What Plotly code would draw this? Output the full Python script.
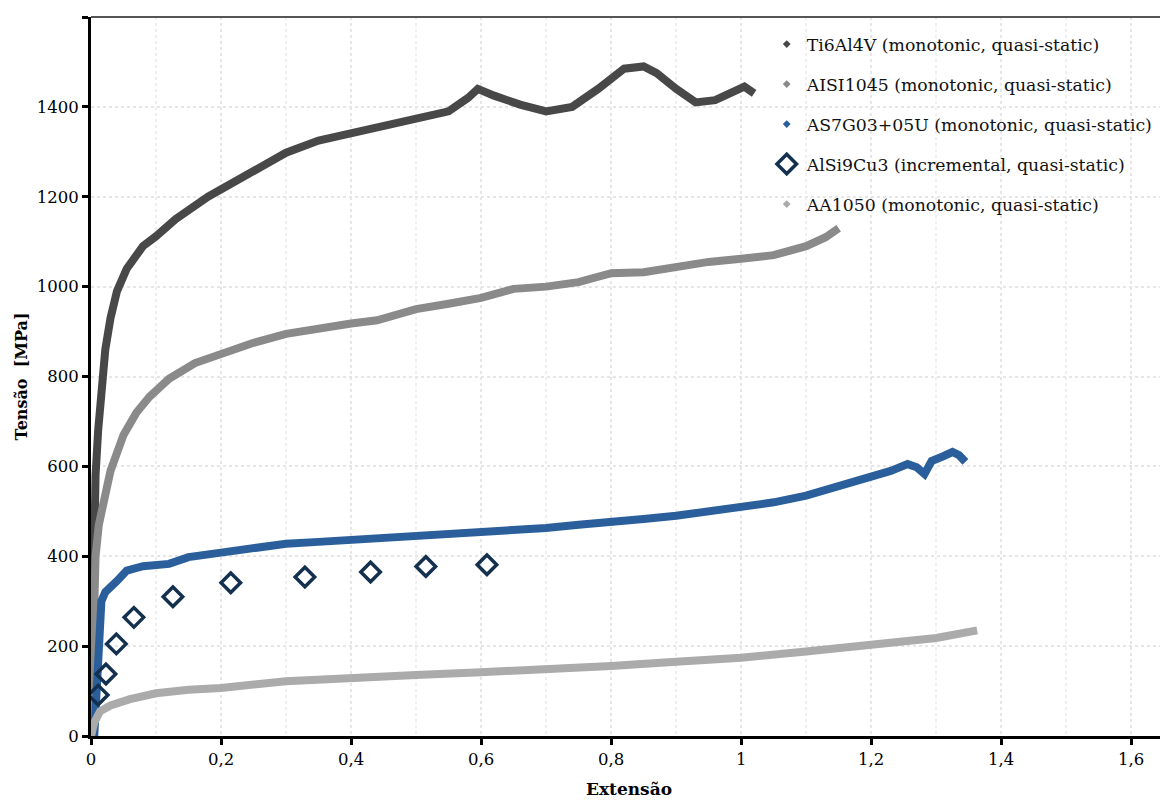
import plotly.graph_objects as go

# ---- data ----
ti_x = [0, 0.002, 0.004, 0.007, 0.011, 0.016, 0.022, 0.03, 0.04, 0.055, 0.08, 0.1, 0.13, 0.18,
        0.24, 0.3, 0.35, 0.43, 0.5, 0.55, 0.58, 0.595, 0.62, 0.66, 0.7, 0.74, 0.78, 0.82, 0.85,
        0.87, 0.9, 0.93, 0.96, 0.99, 1.005, 1.02]
ti_y = [0, 250, 450, 580, 680, 780, 860, 930, 990, 1040, 1090, 1112, 1150, 1200, 1250, 1298,
        1325, 1350, 1372, 1390, 1420, 1440, 1425, 1405, 1390, 1400, 1440, 1485, 1490, 1475,
        1440, 1410, 1415, 1435, 1445, 1430]

aisi_x = [0, 0.002, 0.004, 0.007, 0.012, 0.02, 0.03, 0.05, 0.07, 0.09, 0.12, 0.16, 0.2, 0.25,
          0.3, 0.35, 0.4, 0.44, 0.5, 0.55, 0.6, 0.65, 0.7, 0.75, 0.8, 0.85, 0.9, 0.95, 1.0,
          1.05, 1.1, 1.13, 1.15]
aisi_y = [0, 150, 300, 400, 470, 530, 590, 670, 720, 755, 795, 830, 850, 875, 895, 908, 918,
          925, 950, 962, 975, 995, 1000, 1010, 1030, 1032, 1045, 1055, 1062, 1070, 1090, 1110,
          1130]

as7_x = [0.005, 0.008, 0.01, 0.012, 0.016, 0.022, 0.03, 0.04, 0.055, 0.08, 0.12, 0.15, 0.2,
         0.25, 0.3, 0.35, 0.4, 0.45, 0.5, 0.55, 0.6, 0.65, 0.7, 0.75, 0.8, 0.85, 0.9, 0.95,
         1.0, 1.05, 1.1, 1.15, 1.2, 1.23, 1.256, 1.27, 1.282, 1.293, 1.31, 1.325, 1.335, 1.345]
as7_y = [0, 80, 170, 250, 300, 320, 330, 345, 368, 378, 383, 398, 408, 418, 428, 432, 436,
         442, 445, 447, 455, 458, 463, 470, 475, 483, 490, 500, 508, 520, 535, 555, 575, 590,
         605, 598, 583, 612, 622, 632, 625, 610]

alsi_x = [0.011, 0.023, 0.039, 0.066, 0.126, 0.215, 0.329, 0.43, 0.515, 0.609]
alsi_y = [91, 138, 205, 264, 310, 341, 354, 365, 377, 381]

aa_x = [0, 0.005, 0.014, 0.03, 0.06, 0.1, 0.15, 0.2, 0.3, 0.4, 0.5, 0.6, 0.7, 0.8, 0.9, 1.0,
        1.1, 1.2, 1.25, 1.3, 1.363]
aa_y = [0, 30, 55, 68, 82, 95, 103, 107, 122, 131, 136, 142, 148, 156, 165, 174, 188, 203,
        210, 218, 235]

names = ["Ti6Al4V (monotonic, quasi-static)",
         "AISI1045 (monotonic, quasi-static)",
         "AS7G03+05U (monotonic, quasi-static)",
         "AlSi9Cu3 (incremental, quasi-static)",
         "AA1050 (monotonic, quasi-static)"]
colors = ["#484848", "#8a8a8a", "#2a5f9c", "#14304f", "#ababab"]

x_ticks = [0, 0.2, 0.4, 0.6, 0.8, 1.0, 1.2, 1.4, 1.6]
x_ticklabels = ["0", "0,2", "0,4", "0,6", "0,8", "1", "1,2", "1,4", "1,6"]
y_ticks = [0, 200, 400, 600, 800, 1000, 1200, 1400, 1600]

FONT = "DejaVu Serif"

fig = go.Figure()

curves = [(ti_x, ti_y, 0), (aisi_x, aisi_y, 1), (as7_x, as7_y, 2)]
for xs, ys, i in curves:
    fig.add_trace(go.Scatter(x=xs, y=ys, mode="lines", line=dict(color=colors[i], width=8),
                             showlegend=False, hoverinfo="skip"))
    fig.add_trace(go.Scatter(x=[None], y=[None], mode="markers", name=names[i],
                             legendgroup=str(i),
                             marker=dict(symbol="diamond", size=6, color=colors[i])))

fig.add_trace(go.Scatter(x=alsi_x, y=alsi_y, mode="markers", name=names[3], legendgroup="3",
                         marker=dict(symbol="diamond-open", size=15, color=colors[3],
                                     line=dict(width=3.5, color=colors[3]))))

fig.add_trace(go.Scatter(x=aa_x, y=aa_y, mode="lines", line=dict(color=colors[4], width=8),
                         showlegend=False, hoverinfo="skip"))
fig.add_trace(go.Scatter(x=[None], y=[None], mode="markers", name=names[4], legendgroup="4",
                         marker=dict(symbol="diamond", size=6, color=colors[4])))

fig.update_layout(
    width=1160, height=791,
    margin=dict(l=83, r=1, t=9, b=63),
    paper_bgcolor="white", plot_bgcolor="white",
    font=dict(family=FONT, size=17, color="black"),
    legend=dict(x=0.628, y=0.987, xanchor="left", yanchor="top", bgcolor="rgba(255,255,255,0)",
                tracegroupgap=14.5, font=dict(family=FONT, size=17.3, color="#111111"),
                itemsizing="trace", itemwidth=30),
    shapes=[
        dict(type="line", xref="paper", yref="paper", x0=0, x1=1, y0=1, y1=1,
             line=dict(color="#555555", width=2)),
        dict(type="line", xref="paper", yref="paper", x0=1, x1=1, y0=0, y1=1,
             line=dict(color="#555555", width=1.5)),
    ],
)

fig.update_xaxes(
    range=[0, 1.655], tickvals=x_ticks, ticktext=x_ticklabels, automargin=False,
    showline=True, linecolor="black", linewidth=3,
    ticks="outside", ticklen=6, tickwidth=3, tickcolor="black",
    showgrid=True, gridcolor="#e6e6e6", griddash="dot", gridwidth=1.5,
    minor=dict(dtick=0.1, showgrid=True, gridcolor="#efefef", gridwidth=2),
    zeroline=False,
    tickfont=dict(family=FONT, size=16.5),
    title=dict(text="<b>Extensão</b>", font=dict(family=FONT, size=17), standoff=21),
)
fig.update_yaxes(
    range=[0, 1600], tickvals=y_ticks, automargin=False,
    showline=True, linecolor="black", linewidth=3,
    ticks="outside", ticklen=6, tickwidth=3, tickcolor="black",
    showgrid=True, gridcolor="#e6e6e6", griddash="dot", gridwidth=1.5,
    zeroline=False,
    tickfont=dict(family=FONT, size=16.5),
    title=dict(text="<b>Tensão  [MPa]</b>", font=dict(family=FONT, size=16), standoff=6),
)

fig.write_html("out.html")
